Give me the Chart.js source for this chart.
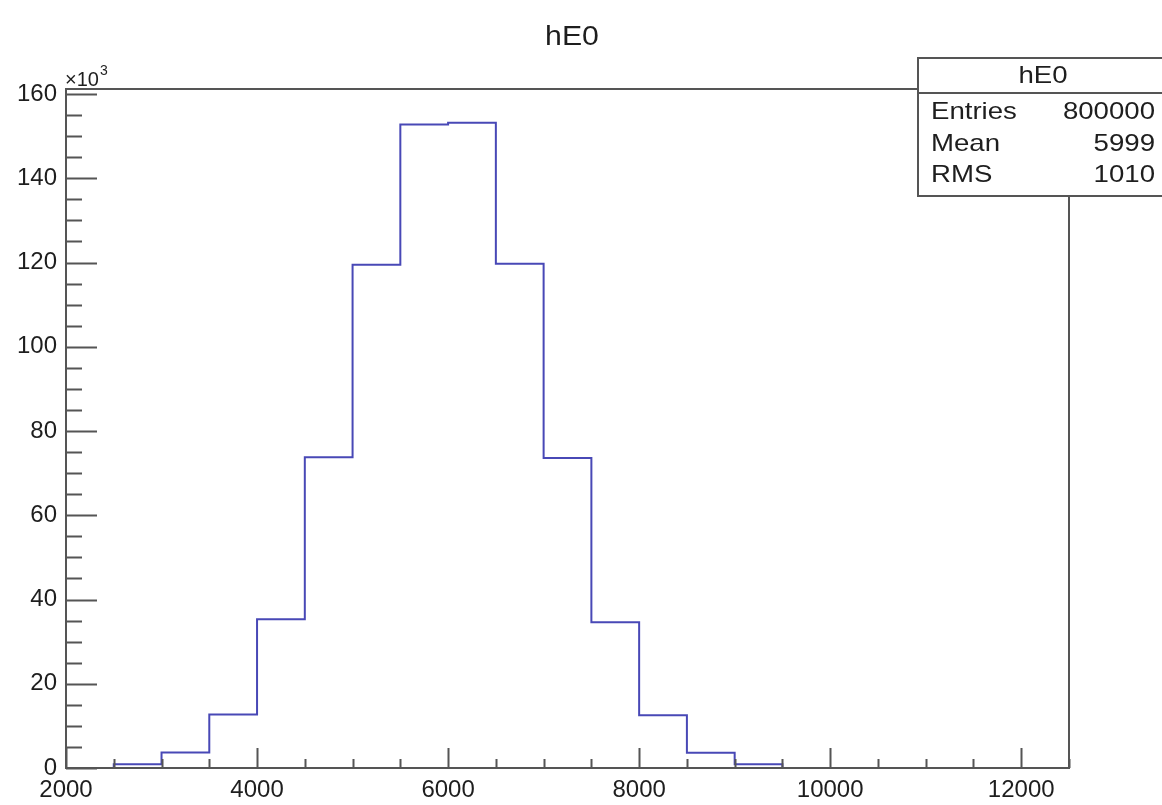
<!DOCTYPE html>
<html>
<head>
<meta charset="utf-8">
<title>hE0</title>
<script src="https://cdn.jsdelivr.net/npm/chart.js@4.4.1/dist/chart.umd.min.js"></script>
<style>
  html, body { margin: 0; padding: 0; background: #ffffff; }
  #wrap { width: 1162px; height: 805px; position: relative; }
</style>
</head>
<body>
<div id="wrap"><canvas id="hist" width="1162" height="805"></canvas></div>
<script>
// Histogram hE0: bin edges (500 wide) and bin contents
const histTitle = 'hE0';
const binEdges = [2500, 3000, 3500, 4000, 4500, 5000, 5500, 6000, 6500, 7000, 7500, 8000, 8500, 9000, 9500];
const binCounts = [900, 3700, 12700, 35300, 73800, 119500, 152800, 153200, 119700, 73600, 34600, 12500, 3600, 900];

// Axis ranges and tick labels
const xRange = [2000, 12500];
const xTickLabels = [2000, 4000, 6000, 8000, 10000, 12000];
const yRange = [0, 161200];
const yTickLabels = [0, 20, 40, 60, 80, 100, 120, 140, 160];

// Statistics box
const statNames = ['Entries', 'Mean', 'RMS'];
const statValues = ['800000', '5999', '1010'];

// Outline of the histogram: each point opens the bin starting at its x,
// its height is held until the next edge
const outline = [{ x: binEdges[0], y: 0 }];
binCounts.forEach((c, i) => outline.push({ x: binEdges[i], y: c }));
outline.push({ x: binEdges[binEdges.length - 1], y: 0 });

const FRAME = 'rgb(85,85,85)';
const TEXT = '#1e1e1e';
const FONT = '"Liberation Sans", Arial, Helvetica, sans-serif';

const rootStyle = {
  id: 'rootStyle',
  afterDraw(chart) {
    const ctx = chart.ctx;
    const { left, right, top, bottom } = chart.chartArea;
    const xs = chart.scales.x, ys = chart.scales.y;
    ctx.save();
    ctx.strokeStyle = FRAME;
    ctx.lineWidth = 2;
    ctx.lineCap = 'butt';

    // inward ticks on x axis: major every 2000, minor every 500
    ctx.beginPath();
    for (let v = xRange[0]; v <= xRange[1]; v += 500) {
      const px = Math.round(xs.getPixelForValue(v)) + 0.5;
      const len = (v % 2000 === 0) ? 20 : 9;
      ctx.moveTo(px, bottom);
      ctx.lineTo(px, bottom - len);
    }
    // inward ticks on y axis: major every 20k, minor every 5k
    for (let v = 0; v <= 160000; v += 5000) {
      const py = Math.round(ys.getPixelForValue(v)) + 0.5;
      const len = (v % 20000 === 0) ? 31 : 16;
      ctx.moveTo(left, py);
      ctx.lineTo(left + len, py);
    }
    ctx.stroke();

    // frame
    ctx.strokeRect(left, top, right - left, bottom - top);

    // title
    ctx.fillStyle = TEXT;
    ctx.textAlign = 'center';
    ctx.textBaseline = 'middle';
    ctx.save();
    ctx.translate(572, 38);
    ctx.scale(1.12, 1);
    ctx.font = '27px ' + FONT;
    ctx.fillText(histTitle, 0, 0);
    ctx.restore();

    // axis multiplier
    ctx.textAlign = 'left';
    ctx.textBaseline = 'alphabetic';
    ctx.font = '20px ' + FONT;
    ctx.fillText('\u00d710', left - 1, top - 3);
    const w = ctx.measureText('\u00d710').width;
    ctx.font = '14px ' + FONT;
    ctx.fillText('3', left - 1 + w + 1, top - 14);

    // statistics box
    const bx = 918, by = 58, bw = 260, bh = 138, hdr = 35;
    ctx.fillStyle = '#ffffff';
    ctx.fillRect(bx, by, bw, bh);
    ctx.strokeStyle = FRAME;
    ctx.lineWidth = 2;
    ctx.strokeRect(bx, by, bw, bh);
    ctx.beginPath();
    ctx.moveTo(bx, by + hdr);
    ctx.lineTo(bx + bw, by + hdr);
    ctx.stroke();

    ctx.fillStyle = TEXT;
    ctx.textBaseline = 'middle';
    const drawStretched = (txt, x, y, align) => {
      ctx.save();
      ctx.translate(x, y);
      ctx.scale(1.15, 1);
      ctx.textAlign = align;
      ctx.font = '24px ' + FONT;
      ctx.fillText(txt, 0, 0);
      ctx.restore();
    };
    drawStretched(histTitle, 1043, by + hdr / 2 + 1, 'center');
    const rowY = [112, 144, 175];
    statNames.forEach((n, i) => {
      drawStretched(n, 931, rowY[i], 'left');
      drawStretched(statValues[i], 1155, rowY[i], 'right');
    });
    ctx.restore();
  }
};

new Chart(document.getElementById('hist'), {
  type: 'line',
  data: {
    datasets: [{
      data: outline,
      stepped: 'before',
      borderColor: 'rgb(72,72,182)',
      borderWidth: 2,
      pointRadius: 0,
      fill: false
    }]
  },
  options: {
    responsive: false,
    animation: false,
    layout: { padding: { left: 0, right: 93, top: 89, bottom: 0 } },
    plugins: { legend: { display: false }, tooltip: { enabled: false }, title: { display: false } },
    scales: {
      x: {
        type: 'linear',
        min: xRange[0],
        max: xRange[1],
        afterFit(s) { s.height = 37; },
        afterBuildTicks(s) { s.ticks = xTickLabels.map(v => ({ value: v })); },
        grid: { display: false, drawTicks: false },
        border: { display: false },
        ticks: {
          padding: 8,
          maxRotation: 0,
          autoSkip: false,
          color: TEXT,
          font: { family: FONT, size: 24 },
          callback: v => String(v)
        }
      },
      y: {
        type: 'linear',
        min: yRange[0],
        max: yRange[1],
        afterFit(s) { s.width = 66; },
        afterBuildTicks(s) { s.ticks = yTickLabels.map(v => ({ value: v * 1000 })); },
        grid: { display: false, drawTicks: false },
        border: { display: false },
        ticks: {
          padding: 9,
          autoSkip: false,
          color: TEXT,
          font: { family: FONT, size: 24 },
          callback: v => String(v / 1000)
        }
      }
    }
  },
  plugins: [rootStyle]
});
</script>
</body>
</html>
